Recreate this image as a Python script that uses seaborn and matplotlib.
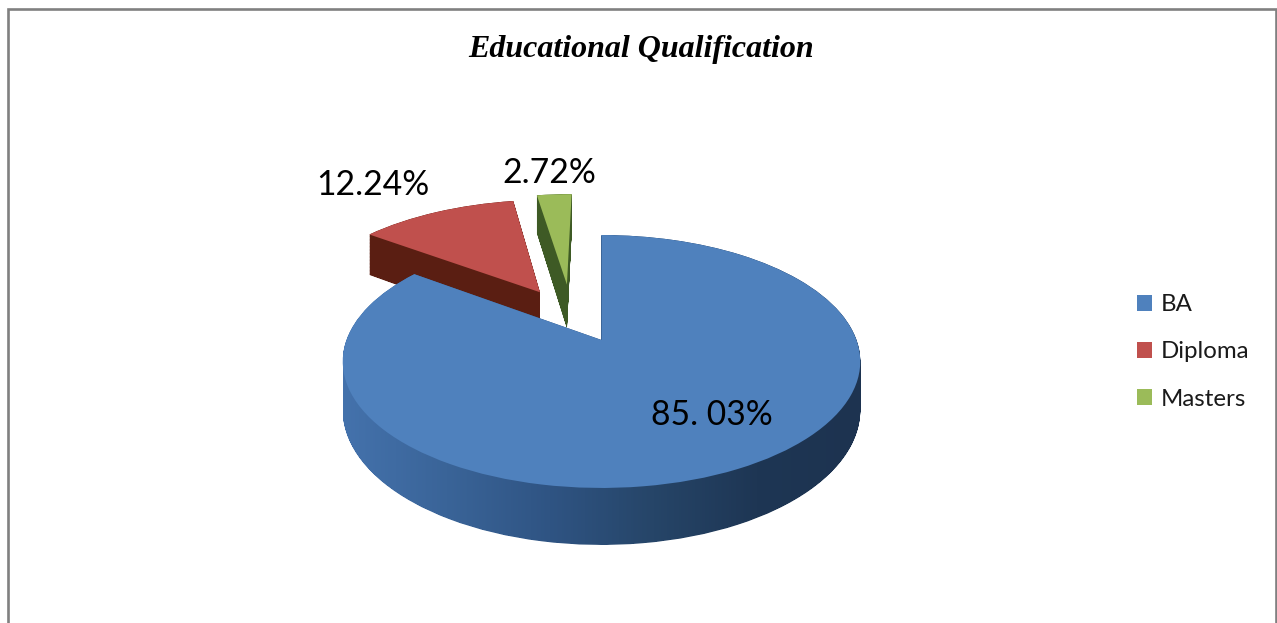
import numpy as np
import matplotlib
matplotlib.use("Agg")
import matplotlib.pyplot as plt
import seaborn as sns
from matplotlib.path import Path
from matplotlib.patches import PathPatch
from matplotlib.transforms import Transform

categories = ["BA", "Diploma", "Masters"]
shares = [85.03, 12.24, 2.72]
value_labels = ["85. 03%", "12.24%", "2.72%"]
chart_title = "Educational Qualification"

top_colors = ["#4F81BD", "#C0504D", "#9BBB59"]
side_colors = ["#2F5483", "#5A1E12", "#3E5A25"]
explode = [0, 0.49, 0.49]

sns.set_theme(style="white")
plt.rcParams["font.family"] = ["Lato", "DejaVu Sans"]

APEX_X, APEX_Y = 601.5, 340.0
RX, RY, K, DEPTH = 255.0, 122.8, 0.17, 47.3


class Tilt(Transform):
    """Perspective view of the flat pie; z runs from top face (0) to bottom (1)."""
    input_dims = 2
    output_dims = 2
    is_separable = False
    has_inverse = False

    def __init__(self, z=0.0):
        super().__init__()
        self.z = z

    def transform_non_affine(self, values):
        v = np.asarray(values, dtype=float)
        w = 1 + K * v[:, 1]
        return np.column_stack([APEX_X + RX * v[:, 0] / w,
                                APEX_Y - (RY * v[:, 1] - self.z * DEPTH) / w])


fig = plt.figure(figsize=(12.77, 6.23), dpi=100)
ax = fig.add_axes([0, 0, 1, 1])

wedges, _ = ax.pie(shares, explode=explode, startangle=90, counterclock=False,
                   colors=top_colors, wedgeprops={"linewidth": 0})
# Excel drew the thin slice slightly further left than its own bisector
cx, cy = wedges[2].center
wedges[2].set_center((cx - 0.105, cy))

ax.set_aspect("auto")
ax.set_xlim(0, 1277)
ax.set_ylim(623, 0)
ax.set_frame_on(False)


def side_path(wedge, layers=70):
    base = wedge.get_path()
    return Path.make_compound_path(*[Tilt(z).transform_path(base)
                                     for z in np.linspace(0, 1, layers)])


draw_order = [1, 2, 0]
for rank, i in enumerate(draw_order):
    w = wedges[i]
    base_z = 2 + rank * 2
    side = side_path(w)
    if i == 0:
        clip = PathPatch(side, transform=ax.transData, facecolor="none", edgecolor="none")
        ax.add_patch(clip)
        cmap = sns.blend_palette(["#4472AC", "#3A6498", "#2F5483", "#264568", "#1E3654", "#1D3350"],
                                 as_cmap=True)
        ext = side.get_extents()
        im = ax.imshow(np.linspace(0, 1, 256)[None, :], cmap=cmap, aspect="auto",
                       extent=(ext.x0, ext.x1, ext.y1, ext.y0), zorder=base_z)
        im.set_clip_path(clip)
    else:
        ax.add_patch(PathPatch(side, facecolor=side_colors[i], edgecolor="none",
                               linewidth=0, zorder=base_z))
    w.set_transform(Tilt(0) + ax.transData)
    w.set_zorder(base_z + 1)

ax.set_xlim(0, 1277)
ax.set_ylim(623, 0)
ax.set_aspect("auto")

border = "#808080"
ax.plot([8, 8, 1276, 1276], [623, 9, 9, 623], color=border, lw=1.9, zorder=1,
        solid_joinstyle="miter")

ax.text(641, 50, chart_title, family="Liberation Serif", fontsize=23, style="italic",
        weight="bold", color="black", ha="center", va="center", zorder=10)

label_pos = [(712, 415), (373, 185), (549, 173)]
for text, (x, y) in zip(value_labels, label_pos):
    ax.text(x, y, text, fontsize=24.2, color="black", ha="center", va="center", zorder=10)

leg = ax.legend(wedges, categories, loc="center left", bbox_to_anchor=(1137, 352),
                bbox_transform=ax.transData, frameon=False, fontsize=17.3,
                handlelength=0.63, handleheight=0.63, handletextpad=0.34,
                labelspacing=1.09, borderpad=0, borderaxespad=0)
leg.set_zorder(10)
for t in leg.get_texts():
    t.set_color("#1a1a1a")

fig.savefig("out.png", dpi=100, facecolor="white")
